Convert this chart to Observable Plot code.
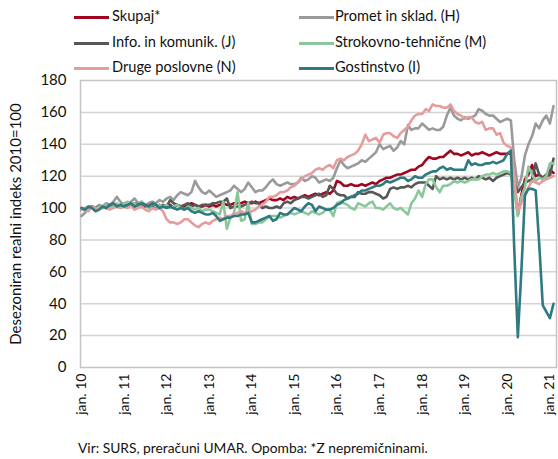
<!DOCTYPE html>
<html><head><meta charset="utf-8">
<script src="https://cdn.jsdelivr.net/npm/d3@7"></script>
<script src="https://cdn.jsdelivr.net/npm/@observablehq/plot@0.6"></script>
<style>
body{margin:0;background:#fff;font-family:Lato,"Open Sans",sans-serif;}
#wrap{position:relative;width:558px;height:459px;overflow:hidden;}
#legend{position:absolute;left:0;top:0;width:558px;height:80px;z-index:2;}
.leg{position:absolute;font-size:14.6px;color:#111;white-space:nowrap;line-height:18px;}
.sw{position:absolute;height:3px;}
#chart{position:absolute;left:0;top:52px;z-index:1;}
#cap{position:absolute;left:78px;top:439px;font-size:13.8px;color:#111;white-space:nowrap;}
</style></head><body>
<div id="wrap"><div id="legend"></div><div id="chart"></div><div id="cap">Vir: SURS, preračuni UMAR. Opomba: *Z nepremičninami.</div></div>
<script>
// Monthly data, Jan 2010 – Feb 2021
const startYear = 2010;
const seriesNames = ["Skupaj*", "Promet in sklad. (H)", "Info. in komunik. (J)", "Strokovno-tehnične (M)", "Druge poslovne (N)", "Gostinstvo (I)"];
const seriesColors = ["#a0061f", "#9a9a9a", "#575757", "#8cc79b", "#e59c9c", "#2f7a80"];
const yTicks = [0, 20, 40, 60, 80, 100, 120, 140, 160, 180];
const xTickYears = [2010, 2011, 2012, 2013, 2014, 2015, 2016, 2017, 2018, 2019, 2020, 2021];

const skupaj = [
 100,99,100,101,100,100,101,100,101,101,102,101,
 102,101,102,101,102,103,101,102,102,101,102,101,
 101,102,100,102,101,101,102,103,102,101,101,102,
 101,102,101,102,103,102,102,103,103,103,104,103,
 103,104,103,104,105,106,105,105,106,105,107,106,
 107,106,107,108,107,108,109,108,109,110,109,111,
 117,116,114,114,115,114,114,115,114,115,116,115,
 117,118,119,119,120,121,121,122,123,124,124,126,
 127,130,132,131,131,132,132,134,136,134,134,133,
 134,135,133,134,134,135,134,133,134,135,134,134,
 134,135,116,96,108,118,121,127,120,121,118,120,
 124,122];
const promet = [
 95,97,100,101,100,102,101,103,102,104,107,104,
 102,103,104,106,103,104,102,103,104,103,105,104,
 106,107,105,108,110,109,108,110,117,113,110,109,
 111,109,107,108,109,110,111,114,112,110,112,116,
 113,110,111,111,113,116,118,115,114,115,116,115,
 115,116,119,117,118,120,119,116,117,118,117,119,
 125,130,127,125,126,127,128,130,129,131,133,135,
 140,137,138,139,136,138,142,140,152,149,150,150,
 153,151,149,150,149,149,151,158,163,158,156,155,
 157,156,157,158,162,161,159,158,158,156,154,155,
 156,155,130,113,119,133,140,145,153,150,155,158,
 153,164];
const info = [
 99,100,100,101,100,101,100,101,102,101,101,102,
 102,101,102,103,102,101,102,101,100,102,101,102,
 101,105,103,102,101,102,103,101,102,101,102,102,
 102,103,103,104,104,106,100,101,101,101,102,103,
 104,103,103,100,101,100,100,101,100,103,104,103,
 105,106,107,107,106,107,108,109,107,108,114,112,
 109,108,108,106,107,107,110,109,109,110,110,109,
 108,106,107,112,113,112,113,113,114,113,115,116,
 116,116,114,112,120,118,119,118,119,118,119,118,
 119,118,119,118,120,119,118,119,117,119,120,121,
 122,121,116,110,113,116,117,118,128,121,119,121,
 120,131];
const strokovno = [
 100,98,101,100,99,101,100,102,100,101,103,101,
 103,104,102,103,101,104,102,100,103,101,102,101,
 102,100,101,102,100,99,101,100,99,100,98,99,
 99,98,97,96,104,87,94,97,110,92,93,103,
 90,90,91,91,93,95,95,95,94,95,96,97,
 96,97,98,97,96,98,97,96,97,99,99,95,
 103,104,103,102,100,99,103,102,101,103,104,100,
 100,99,101,103,100,99,100,98,96,103,106,111,
 107,115,118,118,113,110,114,114,115,117,116,117,
 116,117,118,118,118,120,121,121,122,121,122,123,
 123,122,110,95,107,113,126,121,117,119,118,120,
 128,128];
const druge = [
 99,100,98,101,100,99,101,100,99,100,101,100,
 101,100,102,99,100,101,99,98,100,99,100,98,
 93,91,91,90,91,93,93,91,89,88,90,91,
 90,92,93,94,93,95,95,96,97,98,97,97,
 98,99,101,102,104,107,107,108,110,110,111,113,
 114,116,118,120,121,122,124,125,124,126,127,125,
 130,131,130,132,133,134,136,140,146,142,143,144,
 141,146,147,147,145,144,147,149,151,155,158,159,
 159,162,161,165,164,164,163,163,165,161,159,158,
 156,157,157,154,153,154,149,150,150,146,147,141,
 139,138,119,98,103,109,113,117,116,115,117,118,
 119,120];
const gostinstvo = [
 100,99,101,100,98,99,101,100,102,103,101,102,
 101,102,103,101,102,103,102,101,103,102,100,101,
 100,101,100,99,100,99,100,98,97,98,97,96,
 96,97,95,92,93,94,94,95,95,96,96,97,
 91,91,92,93,94,95,92,93,97,96,96,98,
 100,99,98,101,103,102,98,101,100,99,99,100,
 102,103,105,106,107,108,109,111,111,112,113,114,
 114,115,117,116,117,118,119,119,117,118,120,119,
 119,121,122,123,123,125,126,124,125,124,124,124,
 124,130,127,128,127,127,128,128,129,128,129,130,
 134,136,75,19,60,108,112,112,111,78,39,35,
 31,40];

const seriesValues = [skupaj, promet, info, strokovno, druge, gostinstvo];
const start = new Date(Date.UTC(startYear, 0, 1));
const rows = seriesValues.map((vals, s) => vals.map((v, i) => ({date: d3.utcMonth.offset(start, i), value: v, series: seriesNames[s]})));
const nMonths = d3.max(seriesValues, a => a.length);
const end = d3.utcMonth.offset(start, nMonths - 1);

// Legend (HTML text)
const legend = document.getElementById("legend");
const colSw = [74, 299], colTx = [112, 335], rowY = [17, 43, 68];
seriesNames.forEach((name, k) => {
  const c = k % 2, r = Math.floor(k / 2);
  const sw = document.createElement("div");
  sw.className = "sw";
  sw.style.left = colSw[c] + "px"; sw.style.top = (rowY[r] - 1.5) + "px";
  sw.style.width = "35px"; sw.style.background = seriesColors[k];
  legend.appendChild(sw);
  const t = document.createElement("div");
  t.className = "leg"; t.textContent = name;
  t.style.left = colTx[c] + "px"; t.style.top = (rowY[r] - 10) + "px";
  legend.appendChild(t);
});

const chart = Plot.plot({
  width: 558, height: 380,
  marginTop: 28, marginLeft: 80, marginRight: 2, marginBottom: 65,
  style: {fontFamily: "Lato, 'Open Sans', sans-serif", fontSize: "15px", color: "#111", background: "transparent"},
  x: {type: "utc", domain: [start, end], insetLeft: 1, insetRight: 3},
  y: {domain: [0, 180]},
  marks: [
    Plot.gridY(yTicks.filter(v => v > 0 && v < 180), {stroke: "#d3d3d3", strokeOpacity: 1, strokeWidth: 1.5}),
    Plot.frame({stroke: "#c4c4c4", strokeWidth: 1.5}),
    Plot.axisY({ticks: yTicks, tickSize: 0, tickPadding: 14, fontSize: 15,
      label: "Desezoniran realni indeks 2010=100", labelAnchor: "center", labelOffset: 70, labelArrow: "none"}),
    Plot.axisX({ticks: xTickYears.map(y => new Date(Date.UTC(y, 0, 1))), tickSize: 0, tickPadding: 6, tickRotate: -90,
      tickFormat: d => "jan. " + String(d.getUTCFullYear()).slice(2), label: null, fontSize: 14}),
    ...rows.map((data, s) => Plot.line(data, {x: "date", y: "value", stroke: seriesColors[s], strokeWidth: 2.6, strokeLinejoin: "round", strokeLinecap: "round"}))
  ]
});
document.getElementById("chart").appendChild(chart);
</script>
</body></html>
